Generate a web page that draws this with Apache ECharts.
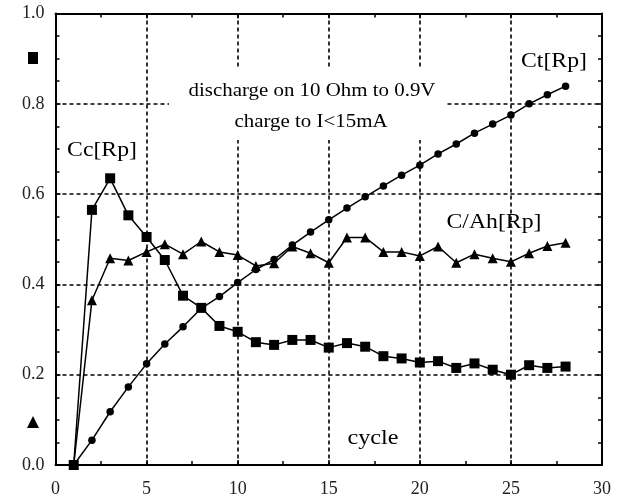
<!DOCTYPE html>
<html>
<head>
<meta charset="utf-8">
<script src="https://cdn.jsdelivr.net/npm/echarts@6/dist/echarts.min.js"></script>
<style>
html,body{margin:0;padding:0;background:#fff;}
#chart{width:623px;height:499px;}
</style>
</head>
<body>
<div id="chart"></div>
<script>
// ---- data ----
const cycles = [1,2,3,4,5,6,7,8,9,10,11,12,13,14,15,16,17,18,19,20,21,22,23,24,25,26,27,28];
const ctValues = [0,0.055,0.118,0.173,0.224,0.268,0.306,0.347,0.373,0.404,0.433,0.455,0.487,0.516,0.543,0.569,0.594,0.618,0.642,0.664,0.689,0.711,0.735,0.755,0.775,0.800,0.820,0.839];
const ccValues = [0,0.565,0.635,0.553,0.505,0.454,0.375,0.348,0.308,0.295,0.272,0.266,0.277,0.277,0.260,0.270,0.262,0.241,0.236,0.227,0.230,0.215,0.225,0.211,0.200,0.221,0.215,0.218];
const cahValues = [0,0.365,0.458,0.453,0.472,0.489,0.467,0.495,0.472,0.465,0.441,0.447,0.484,0.469,0.448,0.504,0.504,0.472,0.472,0.463,0.484,0.448,0.467,0.458,0.450,0.469,0.485,0.492];
const xTickLabels = ['0','5','10','15','20','25','30'];
const yTickLabels = ['0.0','0.2','0.4','0.6','0.8','1.0'];
const seriesNames = ['Ct[Rp]','Cc[Rp]','C/Ah[Rp]'];
const noteLines = ['discharge on 10 Ohm to 0.9V','charge to I<15mA'];
const axisTitle = 'cycle';

const FONT = 'Liberation Serif';
const pair = (vals) => cycles.map((c, i) => [c, vals[i]]);

const chart = echarts.init(document.getElementById('chart'), null, {renderer:'canvas'});

const gridLine = {show:true, lineStyle:{color:'#000', width:1.6, type:[4,3]}};
const border = {show:true, onZero:false, lineStyle:{color:'#000', width:2}};
const tick = {show:true, inside:true, length:5, lineStyle:{color:'#000', width:1.5}};
const minor = (n) => ({show:true, splitNumber:n, length:4, lineStyle:{color:'#000', width:1.5}});

const lineSeries = (name, vals, symbol, size) => ({
  name, type:'line', data: pair(vals), symbol, symbolSize:size,
  showSymbol:true, animation:false, z:3,
  lineStyle:{color:'#000', width:1.5},
  itemStyle:{color:'#000', borderWidth:0}
});

const txt = (text, x, y, size, sx) => ({
  type:'text', x, y, scaleX:sx, z:20,
  style:{text, fill:'#000', font: size + 'px "' + FONT + '"', textAlign:'center', textVerticalAlign:'middle'}
});

chart.setOption({
  animation:false,
  backgroundColor:'#fff',
  grid:{left:55.5, right:21, top:13.5, bottom:34, containLabel:false},
  xAxis:[
    {type:'value', min:0, max:30, interval:5, position:'bottom',
     axisLine:border, axisTick:tick, minorTick:minor(2), splitLine:gridLine,
     axisLabel:{color:'#222', fontFamily:FONT, fontSize:18, margin:15,
       formatter:(v)=>xTickLabels[Math.round(v/5)]}},
    {type:'value', min:0, max:30, interval:5, position:'top',
     axisLine:border, axisTick:tick, minorTick:minor(2), splitLine:{show:false},
     axisLabel:{show:false}}
  ],
  yAxis:[
    {type:'value', min:0, max:1, interval:0.2, position:'left',
     axisLine:border, axisTick:tick, minorTick:minor(4), splitLine:gridLine,
     axisLabel:{color:'#222', fontFamily:FONT, fontSize:18, margin:11,
       formatter:(v)=>yTickLabels[Math.round(v/0.2)]}},
    {type:'value', min:0, max:1, interval:0.2, position:'right',
     axisLine:border, axisTick:tick, minorTick:minor(4), splitLine:{show:false},
     axisLabel:{show:false}}
  ],
  series:[
    lineSeries(seriesNames[1], ccValues, 'rect', 10),
    lineSeries(seriesNames[2], cahValues, 'triangle', 10),
    lineSeries(seriesNames[0], ctValues, 'circle', 7.5)
  ],
  graphic:[
    {type:'rect', z:10, shape:{x:169, y:68, width:278, height:72}, style:{fill:'#fff'}},
    txt(noteLines[0], 312, 91, 19, 1.1),
    txt(noteLines[1], 311, 122, 19, 1.1),
    txt(seriesNames[0], 554, 61, 21, 1.13),
    txt(seriesNames[1], 102, 150, 21, 1.13),
    txt(seriesNames[2], 494, 222, 21, 1.13),
    txt(axisTitle, 373, 438, 21, 1.15),
    {type:'rect', z:10, shape:{x:28, y:52, width:10, height:12}, style:{fill:'#000'}},
    {type:'polygon', z:10, shape:{points:[[27,428],[39,428],[33,416]]}, style:{fill:'#000'}}
  ]
});
</script>
</body>
</html>
